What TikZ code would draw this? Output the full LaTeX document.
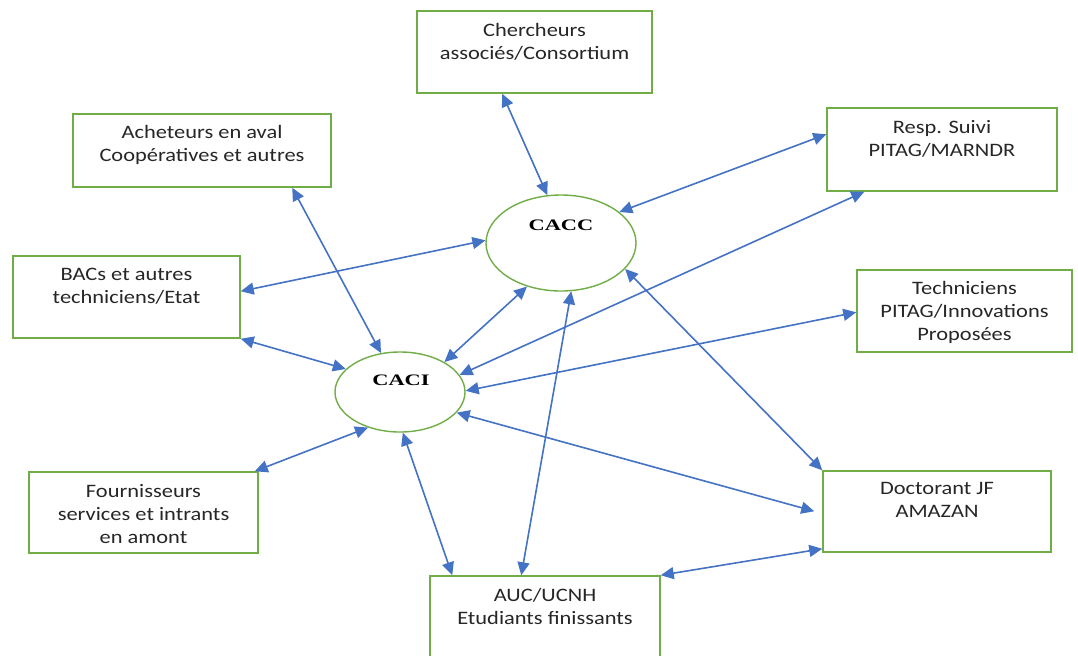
\documentclass[tikz,border=0pt]{standalone}
\usepackage{fontspec}
\setmainfont{Carlito}[FakeStretch=1.18]
\newfontfamily\centrefont{Liberation Serif}[FakeStretch=1.4]
\usetikzlibrary{shapes.geometric,arrows.meta,calc}

\definecolor{boxgreen}{RGB}{112,173,71}
\definecolor{linkblue}{RGB}{68,114,196}

\tikzset{
  actor/.style={draw=boxgreen,line width=0.75pt,rectangle,inner sep=0pt},
  centre/.style={draw=boxgreen,line width=0.7pt,ellipse,inner sep=0pt},
  actortext/.style={anchor=north,align=center,inner sep=0pt,
    text=black!85,font={\fontsize{9.5}{11.5}\selectfont}},
  centretext/.style={inner sep=0pt,text=black,
    font={\centrefont\bfseries\fontsize{8}{9.5}\selectfont}},
  link/.style={linkblue,line width=0.8pt,
    {Triangle[length=6.5pt,width=6pt]}-{Triangle[length=6.5pt,width=6pt]}},
}

\begin{document}
\begin{tikzpicture}[x=0.5pt,y=-0.5pt]
                
                \useasboundingbox (0,0) rectangle (1078,655);
                \clip (0,0) rectangle (1078,655);
                
                % Boxes
                \node[actor,minimum width=117.5pt,minimum height=41pt]   (cher) at (534.5,52) {};
                \node[actor,minimum width=129pt,minimum height=36.5pt]   (ach)  at (202,150.5) {};
                \node[actor,minimum width=115pt,minimum height=41.5pt]   (resp) at (942,149.5) {};
                \node[actor,minimum width=113.5pt,minimum height=41pt]   (bac)  at (126.5,297) {};
                \node[actor,minimum width=107.5pt,minimum height=41pt]   (tech) at (964.5,311) {};
                \node[actor,minimum width=114.5pt,minimum height=40.5pt] (fou)  at (143.5,512.5) {};
                \node[actor,minimum width=114pt,minimum height=40.5pt]   (doc)  at (937,511.5) {};
                \node[actor,minimum width=115pt,minimum height=40.5pt]   (auc)  at (545,616.5) {};
                
                % Box texts
                \node[actortext] (cher-t) at ($(cher.north)+(0,13)$) {Chercheurs\\associés/Consortium};
                \node[actortext] (ach-t)  at ($(ach.north)+(0,12)$)  {Acheteurs en aval\\Coopératives et autres};
                \node[actortext] (resp-t) at ($(resp.north)+(0,13)$) {Resp. Suivi\\PITAG/MARNDR};
                \node[actortext] (bac-t)  at ($(bac.north)+(0,13)$)  {BACs et autres\\techniciens/Etat};
                \node[actortext] (tech-t) at ($(tech.north)+(0,12)$) {Techniciens\\PITAG/Innovations\\Proposées};
                \node[actortext] (fou-t)  at ($(fou.north)+(0,13)$)  {Fournisseurs\\services et intrants\\en amont};
                \node[actortext] (doc-t)  at ($(doc.north)+(0,12)$)  {Doctorant JF\\AMAZAN};
                \node[actortext] (auc-t)  at ($(auc.north)+(0,13)$)  {AUC/UCNH\\Etudiants finissants};
                
                % Circles
                \node[centre,minimum width=75pt,minimum height=48pt] (cacc) at (561,243) {};
                \node[centre,minimum width=65pt,minimum height=40pt] (caci) at (400,392) {};
                \node[centretext] (cacc-t) at (561,225) {CACC};
                \node[centretext] (caci-t) at (401,380) {CACI};
                
                % Links to CACC
                \draw[link] ($(cher.south west)+(86,0)$) -- (cacc.106);
                \draw[link] ($(resp.north west)+(0,27)$) -- (cacc.28.5);
                \draw[link] ($(bac.north east)+(0,36)$) -- (cacc.178);
                \draw[link] (cacc.232.5) -- (caci.34.6);
                \draw[link] (cacc.282) -- ($(auc.north west)+(92,0)$);
                \draw[link] (cacc.338) -- (doc.north west);
                
                % Links to CACI
                \draw[link] ($(ach.south west)+(220,0)$) -- (caci.116.6);
                \draw[link] (bac.south east) -- (caci.157.5);
                \draw[link] ($(resp.south west)+(38,0)$) -- (caci.16.8);
                \draw[link] ($(tech.north west)+(0,43)$) -- (caci.1);
                \draw[link] (caci.340.7) -- ($(doc.north west)+(-8,41)$);
                \draw[link] ($(fou.north east)+(-4,0)$) -- (caci.228);
                \draw[link] (caci.274.5) -- ($(auc.north west)+(23,0)$);
                
                % AUC and doctorant
                \draw[link] (auc.north east) -- ($(doc.south west)+(0,-4)$);
                
            \end{tikzpicture}
\end{document}
